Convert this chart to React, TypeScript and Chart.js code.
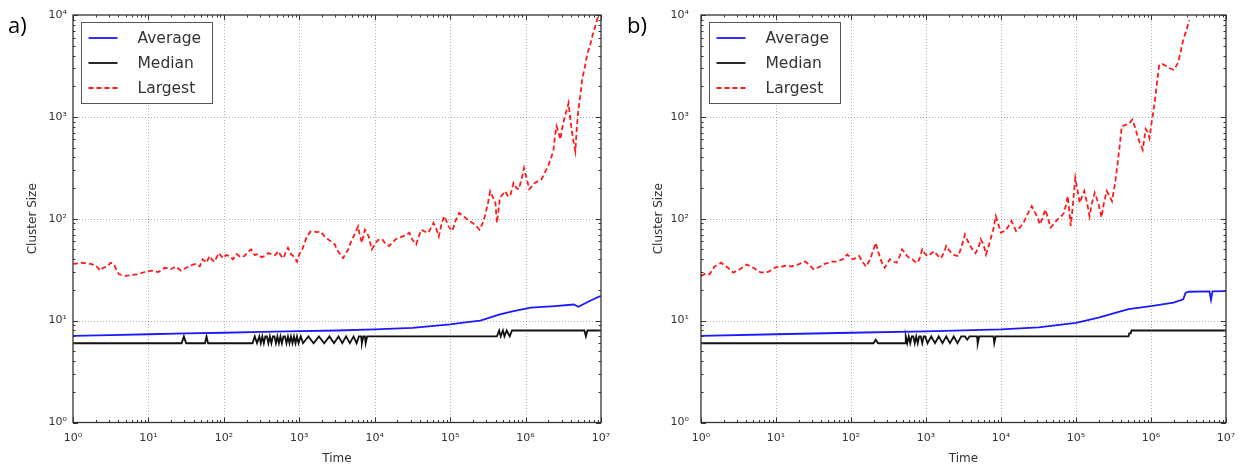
import React, { useEffect, useRef } from 'react';
import { Chart, registerables } from 'chart.js';

Chart.register(...registerables);

// ---------- labels / ticks ----------
const SUPERSCRIPTS = ['⁰', '¹', '²', '³', '⁴', '⁵', '⁶', '⁷', '⁸', '⁹'];
const X_DECADES = [0, 1, 2, 3, 4, 5, 6, 7];
const Y_DECADES = [0, 1, 2, 3, 4];
const SERIES_LABELS = ['Average', 'Median', 'Largest'];
const PANEL_LABELS = ['a)', 'b)'];
const X_TITLE = 'Time';
const Y_TITLE = 'Cluster Size';

// ---------- panel a (time given as log10 exponent) ----------
const avgA_t = [0, 0.5, 1, 1.5, 2, 2.5, 3, 3.5, 4, 4.5, 5, 5.2, 5.4, 5.66, 5.84, 6.07, 6.39, 6.64, 6.7, 6.85, 7];
const avgA_v = [7.1, 7.2, 7.35, 7.5, 7.6, 7.75, 7.9, 8.0, 8.2, 8.5, 9.2, 9.6, 10.0, 11.5, 12.4, 13.4, 13.9, 14.4, 13.7, 15.6, 17.5];

const medA_t = [0, 1.44, 1.47, 1.5, 1.75, 1.77, 1.79, 2.38, 2.41, 2.44,
  2.47, 2.49, 2.51, 2.53, 2.55, 2.57, 2.59, 2.61, 2.63, 2.65, 2.67, 2.69, 2.71, 2.73, 2.75, 2.77, 2.79, 2.81,
  2.83, 2.85, 2.87, 2.89, 2.91, 2.93, 2.95, 2.97, 2.99, 3.02, 3.05,
  3.12, 3.19, 3.26, 3.33, 3.4, 3.46, 3.52, 3.57, 3.62, 3.67, 3.72, 3.76, 3.79, 3.82, 3.83, 3.85, 3.87, 3.88, 3.9,
  5.62, 5.65, 5.67, 5.7, 5.72, 5.75, 5.79, 5.82, 6.78, 6.8, 6.82, 7];
const medA_v = [6, 6, 7, 6, 6, 7, 6, 6, 7, 6,
  7, 6, 7, 6, 7, 7, 6, 7, 6, 7, 7, 6, 7, 6, 7, 6, 7, 7,
  6, 7, 6, 7, 6, 7, 6, 7, 6, 7, 6,
  7, 6, 7, 6, 7, 6, 7, 6, 7, 6, 7, 6, 7, 7, 6, 7, 7, 6, 7,
  7, 8, 7, 8, 7, 8, 7, 8, 8, 7, 8, 8];

const lrgA_t = [0, 0.12, 0.23, 0.3, 0.36, 0.4, 0.45, 0.5, 0.54, 0.58, 0.61, 0.66, 0.7, 0.78, 0.86, 0.95, 1.04, 1.13,
  1.22, 1.3, 1.36, 1.43, 1.5, 1.57, 1.63, 1.68, 1.72, 1.77, 1.81, 1.85, 1.88, 1.93, 1.99, 2.03, 2.08, 2.12, 2.17,
  2.22, 2.27, 2.32, 2.36, 2.41, 2.45, 2.5, 2.54, 2.59, 2.63, 2.68, 2.72, 2.76, 2.79, 2.82, 2.85, 2.89, 2.92, 2.95,
  2.97, 3.0, 3.04, 3.07, 3.1, 3.15, 3.19, 3.24, 3.28, 3.33, 3.38, 3.42, 3.47, 3.5, 3.53, 3.56, 3.58, 3.62, 3.65,
  3.68, 3.72, 3.75, 3.78, 3.8, 3.83, 3.85, 3.87, 3.9, 3.92, 3.94, 3.96, 3.99, 4.01, 4.05, 4.1, 4.14, 4.19, 4.23,
  4.28, 4.32, 4.37, 4.42, 4.46, 4.5, 4.55, 4.58, 4.62, 4.66, 4.71, 4.75, 4.78, 4.82, 4.85, 4.88, 4.92, 4.95, 4.98,
  5.03, 5.07, 5.12, 5.16, 5.21, 5.25, 5.3, 5.35, 5.39, 5.43, 5.46, 5.5, 5.53, 5.57, 5.6, 5.62, 5.64, 5.66, 5.7,
  5.73, 5.77, 5.8, 5.84, 5.88, 5.91, 5.95, 5.98, 6.02, 6.05, 6.09, 6.12, 6.17, 6.21, 6.26, 6.3, 6.34, 6.37, 6.39,
  6.41, 6.44, 6.46, 6.49, 6.52, 6.55, 6.57, 6.59, 6.61, 6.64, 6.66, 6.68, 6.7, 6.73, 6.75, 6.79, 6.82, 6.86, 6.89,
  6.93, 6.96, 7.0];
const lrgA_v = [36, 37, 36, 35, 31, 33, 34, 37, 36, 31, 28.5, 28, 27.5, 28, 28.5, 30, 31, 30,
  33, 32, 34, 31, 33, 35, 36, 34, 40, 37, 43, 39, 38, 46, 41, 44, 43, 40, 45,
  42, 43, 47, 50, 44, 45, 42, 43, 46, 45, 44, 48, 43, 41, 47, 52, 45, 43, 40,
  38, 45, 50, 58, 67, 75, 75, 74, 75, 68, 63, 60, 56, 50, 46, 43, 41, 46, 50,
  58, 67, 75, 84, 70, 58, 68, 78, 72, 67, 58, 50, 54, 58, 62, 63, 57, 54, 58,
  63, 65, 67, 70, 73, 62, 56, 66, 78, 75, 73, 82, 91, 78, 67, 85, 106, 95, 84,
  76, 95, 114, 108, 101, 95, 91, 84, 78, 90, 106, 140, 186, 160, 144, 91, 120, 161, 175,
  186, 165, 172, 225, 200, 195, 250, 315, 240, 195, 210, 225, 235, 243, 290, 330, 400, 475, 650,
  810, 700, 600, 800, 1010, 1200, 1370, 1000, 750, 550, 460, 800, 1170, 1700, 2320, 3200, 4200, 5200, 6400,
  8000, 9700, 10000];

// ---------- panel b ----------
const avgB_t = [0, 1, 2, 3, 4, 4.5, 5, 5.3, 5.5, 5.7, 6.0, 6.3, 6.43, 6.46, 6.5, 6.78, 6.8, 6.82, 7];
const avgB_v = [7.1, 7.35, 7.6, 7.85, 8.2, 8.6, 9.5, 10.7, 11.8, 13.0, 13.9, 15.0, 16.2, 18.7, 19.2, 19.4, 16, 19.4, 19.5];

const medB_t = [0, 2.3, 2.33, 2.36, 2.72, 2.73, 2.75, 2.77, 2.79, 2.81, 2.83, 2.85, 2.87, 2.89, 2.91, 2.93, 2.95,
  2.97, 2.99, 3.02, 3.07, 3.12, 3.17, 3.22, 3.27, 3.32, 3.37, 3.42, 3.47, 3.52, 3.55, 3.58, 3.68, 3.69, 3.71,
  3.9, 3.91, 3.93, 5.7, 5.71, 5.73, 5.74, 7];
const medB_v = [6, 6, 6.5, 6, 6, 7, 6, 7, 6, 7, 7, 6, 7, 6, 7, 7, 6,
  7, 7, 6, 7, 6, 7, 6, 7, 6, 7, 6, 7, 7, 6.5, 7, 7, 6, 7,
  7, 6, 7, 7, 7.5, 7.5, 8, 8];

const lrgB_t = [0, 0.06, 0.11, 0.15, 0.18, 0.22, 0.27, 0.31, 0.36, 0.4, 0.43, 0.48, 0.52, 0.57, 0.61, 0.66, 0.7,
  0.75, 0.8, 0.85, 0.89, 0.93, 0.98, 1.04, 1.09, 1.15, 1.2, 1.25, 1.3, 1.34, 1.39, 1.45, 1.5, 1.55, 1.59, 1.65,
  1.7, 1.75, 1.8, 1.85, 1.89, 1.95, 2.02, 2.06, 2.11, 2.15, 2.2, 2.24, 2.27, 2.3, 2.33, 2.36, 2.39, 2.42, 2.45,
  2.48, 2.52, 2.56, 2.61, 2.65, 2.68, 2.72, 2.75, 2.78, 2.82, 2.85, 2.89, 2.92, 2.95, 2.98, 3.02, 3.06, 3.11,
  3.15, 3.2, 3.24, 3.27, 3.3, 3.34, 3.38, 3.43, 3.47, 3.52, 3.55, 3.59, 3.62, 3.66, 3.7, 3.73, 3.77, 3.8, 3.83,
  3.86, 3.9, 3.93, 3.96, 4.0, 4.03, 4.07, 4.1, 4.14, 4.17, 4.2, 4.25, 4.3, 4.35, 4.41, 4.44, 4.48, 4.52, 4.55,
  4.59, 4.62, 4.66, 4.7, 4.75, 4.8, 4.84, 4.87, 4.89, 4.91, 4.93, 4.96, 4.99, 5.02, 5.05, 5.08, 5.11, 5.15, 5.18,
  5.21, 5.25, 5.3, 5.34, 5.37, 5.41, 5.45, 5.48, 5.52, 5.55, 5.58, 5.61, 5.65, 5.68, 5.72, 5.75, 5.79, 5.82, 5.85,
  5.89, 5.91, 5.93, 5.96, 5.98, 6.0, 6.02, 6.05, 6.07, 6.09, 6.11, 6.15, 6.2, 6.25, 6.3, 6.33, 6.36, 6.4, 6.43,
  6.47, 6.51];
const lrgB_v = [27.4, 29, 28.4, 31, 34, 35, 37, 35, 33, 31, 29.6, 31, 32, 34, 35.6, 34, 33,
  31, 29.6, 30, 30, 31, 33, 34, 34, 35, 34, 35, 35.6, 37, 38, 35, 32, 33, 34, 36,
  37, 38, 38, 39, 40, 44.6, 40, 41, 43, 38, 34, 38, 43, 50, 58, 48, 41, 36, 33,
  36, 40, 38, 37, 43, 50, 46, 43, 41, 40, 38, 37, 42, 50, 46, 43, 45, 48,
  44, 41, 47, 54, 50, 46, 44, 43, 52, 70, 62, 54, 50, 46, 52, 63, 55, 44.6, 52,
  63, 80, 106, 90, 73, 75, 78, 85, 95, 85, 76, 82, 91, 110, 133, 120, 106, 88, 100,
  123, 105, 82, 88, 98, 105, 114, 140, 167, 120, 85, 140, 252, 190, 143, 165, 187, 140, 106,
  140, 180, 140, 103, 140, 187, 165, 149, 220, 327, 500, 810, 830, 840, 880, 940, 780, 650, 560,
  475, 600, 760, 700, 620, 800, 1000, 1400, 1860, 2500, 3240, 3300, 3160, 3000, 2900, 3100, 3400, 4500, 5700,
  7000, 8900];

const toPoints = (t: number[], v: number[]) => t.map((e, i) => ({ x: Math.pow(10, e), y: v[i] }));

const supLabel = (value: number) => '10' + SUPERSCRIPTS[Math.round(Math.log10(value))];

const mplPlugin = {
  id: 'mpl',
  beforeDatasetsDraw(chart: any) {
    const { ctx, chartArea: a } = chart;
    const xs = chart.scales.x;
    const ys = chart.scales.y;
    ctx.save();
    ctx.strokeStyle = 'rgba(0,0,0,0.3)';
    ctx.lineWidth = 1;
    ctx.setLineDash([1, 2]);
    ctx.beginPath();
    X_DECADES.slice(1, -1).forEach((d) => {
      const p = Math.round(xs.getPixelForValue(Math.pow(10, d))) + 0.5;
      ctx.moveTo(p, a.top);
      ctx.lineTo(p, a.bottom);
    });
    Y_DECADES.slice(1, -1).forEach((d) => {
      const p = Math.round(ys.getPixelForValue(Math.pow(10, d))) + 0.5;
      ctx.moveTo(a.left, p);
      ctx.lineTo(a.right, p);
    });
    ctx.stroke();
    ctx.restore();
  },
  afterDatasetsDraw(chart: any, _args: any, opts: any) {
    const { ctx, chartArea: a } = chart;
    const xs = chart.scales.x;
    const ys = chart.scales.y;
    ctx.save();
    ctx.setLineDash([]);
    ctx.strokeStyle = '#333';
    ctx.lineWidth = 1;
    ctx.beginPath();
    // x ticks (inside, top and bottom)
    for (let d = X_DECADES[0]; d <= X_DECADES[X_DECADES.length - 1]; d++) {
      for (let k = 1; k <= 9; k++) {
        const v = k * Math.pow(10, d);
        if (v > Math.pow(10, X_DECADES[X_DECADES.length - 1])) break;
        const p = Math.round(xs.getPixelForValue(v)) + 0.5;
        const len = k === 1 ? 5 : 2.5;
        ctx.moveTo(p, a.bottom);
        ctx.lineTo(p, a.bottom - len);
        ctx.moveTo(p, a.top);
        ctx.lineTo(p, a.top + len);
      }
    }
    for (let d = Y_DECADES[0]; d <= Y_DECADES[Y_DECADES.length - 1]; d++) {
      for (let k = 1; k <= 9; k++) {
        const v = k * Math.pow(10, d);
        if (v > Math.pow(10, Y_DECADES[Y_DECADES.length - 1])) break;
        const p = Math.round(ys.getPixelForValue(v)) + 0.5;
        const len = k === 1 ? 5 : 2.5;
        ctx.moveTo(a.left, p);
        ctx.lineTo(a.left + len, p);
        ctx.moveTo(a.right, p);
        ctx.lineTo(a.right - len, p);
      }
    }
    ctx.stroke();
    // frame
    ctx.strokeStyle = '#333';
    ctx.lineWidth = 1.3;
    ctx.strokeRect(a.left, a.top, a.right - a.left, a.bottom - a.top);

    // legend
    const lx = Math.round(a.left + opts.legendDx) + 0.5;
    const ly = Math.round(a.top + opts.legendDy) + 0.5;
    const lw = 131;
    const lh = 81;
    ctx.fillStyle = '#fff';
    ctx.fillRect(lx, ly, lw, lh);
    ctx.strokeStyle = '#555';
    ctx.lineWidth = 1;
    ctx.strokeRect(lx, ly, lw, lh);
    chart.data.datasets.forEach((ds: any, i: number) => {
      const cy = ly + 15.5 + i * 25;
      ctx.strokeStyle = ds.borderColor;
      ctx.lineWidth = ds.borderWidth;
      ctx.setLineDash(ds.borderDash || []);
      ctx.beginPath();
      ctx.moveTo(lx + 7, cy);
      ctx.lineTo(lx + 36, cy);
      ctx.stroke();
      ctx.setLineDash([]);
      ctx.fillStyle = '#333';
      ctx.font = '15.5px "DejaVu Sans"';
      ctx.textAlign = 'left';
      ctx.textBaseline = 'middle';
      ctx.fillText(ds.label, lx + 56, cy + 0.5);
    });

    // panel label
    ctx.fillStyle = '#000';
    ctx.font = '22px "Open Sans"';
    ctx.textAlign = 'left';
    ctx.textBaseline = 'alphabetic';
    ctx.fillText(opts.panelLabel, opts.panelX, 33);
    ctx.restore();
  },
};

type PanelCfg = {
  left: number;
  width: number;
  plotLeft: number;
  plotRight: number;
  yTickPad: number;
  yTitleX: number;
  panelLabel: string;
  panelX: number;
  avg: { x: number; y: number }[];
  med: { x: number; y: number }[];
  lrg: { x: number; y: number }[];
};

const HEIGHT = 470;
const PLOT_TOP = 15;
const PLOT_BOTTOM = 422.5;

function Panel({ cfg }: { cfg: PanelCfg }) {
  const ref = useRef<HTMLCanvasElement | null>(null);
  useEffect(() => {
    if (!ref.current) return;
    const tickFont = { family: '"DejaVu Sans"', size: 11 };
    const titleFont = { family: '"DejaVu Sans"', size: 12 };
    const chart = new Chart(ref.current, {
      type: 'line',
      data: {
        datasets: [
          { label: SERIES_LABELS[0], data: cfg.avg, borderColor: '#1a1aff', borderWidth: 1.8, pointRadius: 0, tension: 0, fill: false },
          { label: SERIES_LABELS[1], data: cfg.med, borderColor: '#111111', borderWidth: 1.8, pointRadius: 0, tension: 0, fill: false },
          { label: SERIES_LABELS[2], data: cfg.lrg, borderColor: '#ff1a1a', borderWidth: 1.8, borderDash: [5, 3], pointRadius: 0, tension: 0, fill: false },
        ],
      },
      options: {
        responsive: false,
        animation: false,
        parsing: false as any,
        normalized: true,
        layout: { padding: { left: 0, top: PLOT_TOP, right: cfg.width - cfg.plotRight, bottom: 0 } },
        plugins: {
          legend: { display: false },
          tooltip: { enabled: false },
          mpl: { legendDx: 8, legendDy: 7, panelLabel: cfg.panelLabel, panelX: cfg.panelX },
        } as any,
        scales: {
          x: {
            type: 'logarithmic',
            position: 'bottom',
            min: 1,
            max: 1e7,
            afterBuildTicks: (s: any) => { s.ticks = X_DECADES.map((d) => ({ value: Math.pow(10, d) })); },
            afterFit: (s: any) => { s.height = HEIGHT - PLOT_BOTTOM; s.paddingLeft = 0; s.paddingRight = 0; },
            grid: { display: false, drawTicks: false },
            border: { display: false },
            ticks: { autoSkip: false, maxRotation: 0, padding: 9, color: '#333', font: tickFont, callback: (v: any) => supLabel(Number(v)) },
            title: { display: true, text: X_TITLE, color: '#333', font: titleFont, padding: { top: 0, bottom: 4 } },
          },
          y: {
            type: 'logarithmic',
            position: 'left',
            min: 1,
            max: 1e4,
            afterBuildTicks: (s: any) => { s.ticks = Y_DECADES.map((d) => ({ value: Math.pow(10, d) })); },
            afterFit: (s: any) => { s.width = cfg.plotLeft; s.paddingTop = 0; s.paddingBottom = 0; },
            grid: { display: false, drawTicks: false },
            border: { display: false },
            ticks: { autoSkip: false, padding: cfg.yTickPad, color: '#333', font: tickFont, callback: (v: any) => supLabel(Number(v)) },
            title: { display: true, text: Y_TITLE, color: '#333', font: titleFont, padding: { top: cfg.yTitleX - 7.2, bottom: 0 } },
          },
        },
      } as any,
      plugins: [mplPlugin],
    });
    return () => chart.destroy();
  }, [cfg]);
  return (
    <canvas
      ref={ref}
      width={cfg.width}
      height={HEIGHT}
      style={{ position: 'absolute', left: cfg.left, top: 0, width: cfg.width, height: HEIGHT }}
    />
  );
}

const panelA: PanelCfg = {
  left: 0, width: 620, plotLeft: 73, plotRight: 601, yTickPad: 6, yTitleX: 33,
  panelLabel: PANEL_LABELS[0], panelX: 8,
  avg: toPoints(avgA_t, avgA_v), med: toPoints(medA_t, medA_v), lrg: toPoints(lrgA_t, lrgA_v),
};
const panelB: PanelCfg = {
  left: 620, width: 624, plotLeft: 81, plotRight: 606, yTickPad: 12, yTitleX: 39,
  panelLabel: PANEL_LABELS[1], panelX: 7,
  avg: toPoints(avgB_t, avgB_v), med: toPoints(medB_t, medB_v), lrg: toPoints(lrgB_t, lrgB_v),
};

export default function App() {
  return (
    <div style={{ position: 'fixed', left: 0, top: 0, width: 1244, height: HEIGHT, background: '#fff', overflow: 'hidden' }}>
      <Panel cfg={panelA} />
      <Panel cfg={panelB} />
    </div>
  );
}
